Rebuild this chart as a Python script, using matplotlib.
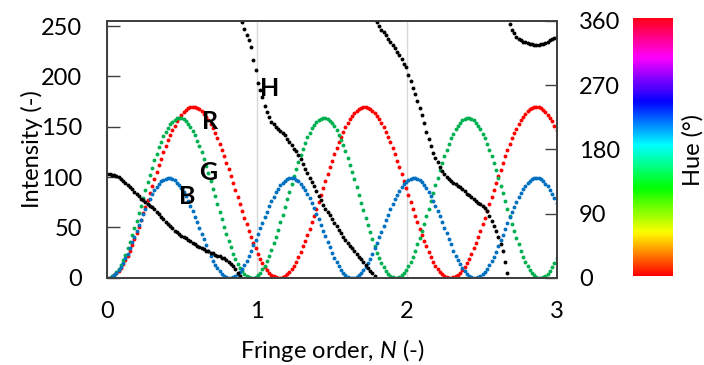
import numpy as np
import matplotlib
matplotlib.use('Agg')
import matplotlib.pyplot as plt
from matplotlib.cm import ScalarMappable
from matplotlib.colors import Normalize

plt.rcParams['font.family'] = ['Lato', 'DejaVu Sans']
plt.rcParams['mathtext.fontset'] = 'custom'
plt.rcParams['mathtext.rm'] = 'Lato'
plt.rcParams['mathtext.it'] = 'Lato:italic'

# fringe order grid (step 0.015)
N = np.round(np.arange(201) * 0.015, 3)

# channel intensities
R = [0, 0, 1, 3, 5, 7, 10, 14, 18, 22,
     27, 32, 38, 44, 50, 57, 64, 70, 77, 84,
     91, 98, 105, 112, 118, 125, 131, 137, 142, 147,
     151, 156, 159, 162, 165, 167, 169, 170, 170, 170,
     169, 168, 166, 163, 160, 157, 153, 149, 144, 139,
     133, 127, 121, 114, 108, 101, 94, 87, 80, 73,
     66, 59, 53, 46, 40, 34, 29, 24, 19, 15,
     11, 8, 5, 3, 2, 1, 0, 0, 1, 2,
     4, 6, 9, 12, 16, 21, 26, 31, 36, 42,
     48, 55, 61, 68, 75, 82, 89, 96, 103, 110,
     116, 123, 129, 135, 140, 145, 150, 154, 158, 161,
     164, 166, 168, 169, 170, 170, 169, 168, 166, 164,
     161, 158, 154, 150, 145, 140, 135, 129, 123, 116,
     110, 103, 96, 89, 82, 75, 68, 61, 55, 48,
     42, 36, 31, 26, 21, 16, 12, 9, 6, 4,
     2, 1, 0, 0, 1, 2, 3, 5, 8, 11,
     15, 19, 24, 29, 34, 40, 46, 53, 59, 66,
     73, 80, 87, 94, 101, 107, 114, 121, 127, 133,
     139, 144, 148, 153, 157, 160, 163, 166, 168, 169,
     170, 170, 170, 169, 167, 165, 162, 159, 156, 151,
     147]

G = [0, 0, 2, 3, 6, 9, 13, 18, 23, 29,
     35, 42, 49, 56, 64, 71, 79, 87, 95, 102,
     109, 117, 123, 130, 135, 141, 145, 149, 153, 155,
     157, 159, 159, 159, 158, 156, 153, 150, 146, 142,
     136, 131, 125, 118, 111, 104, 96, 88, 81, 73,
     65, 58, 50, 43, 36, 30, 24, 19, 14, 10,
     7, 4, 2, 1, 0, 0, 1, 3, 5, 9,
     12, 17, 22, 28, 34, 40, 47, 55, 62, 70,
     78, 85, 93, 101, 108, 115, 122, 128, 134, 140,
     144, 149, 152, 155, 157, 158, 159, 159, 158, 156,
     154, 151, 147, 142, 137, 132, 126, 119, 112, 105,
     98, 90, 82, 74, 67, 59, 52, 45, 38, 31,
     25, 20, 15, 11, 7, 4, 2, 1, 0, 0,
     1, 3, 5, 8, 12, 16, 21, 27, 33, 39,
     46, 53, 61, 68, 76, 84, 92, 99, 107, 114,
     121, 127, 133, 139, 143, 148, 151, 154, 157, 158,
     159, 159, 158, 157, 154, 151, 148, 143, 139, 133,
     127, 121, 114, 107, 99, 91, 84, 76, 68, 61,
     53, 46, 39, 33, 27, 21, 16, 12, 8, 5,
     3, 1, 0, 0, 1, 2, 4, 7, 11, 15,
     20]

B = [0, 0, 1, 3, 5, 8, 11, 15, 20, 24,
     29, 35, 40, 46, 52, 57, 63, 68, 73, 78,
     83, 87, 90, 93, 96, 97, 98, 99, 99, 98,
     97, 94, 92, 89, 85, 81, 76, 71, 66, 60,
     55, 49, 43, 38, 32, 27, 22, 17, 13, 10,
     7, 4, 2, 1, 0, 0, 1, 2, 4, 6,
     9, 13, 17, 22, 27, 32, 37, 43, 49, 54,
     60, 65, 71, 76, 80, 85, 88, 92, 94, 96,
     98, 99, 99, 99, 97, 96, 93, 90, 87, 83,
     79, 74, 69, 63, 58, 52, 46, 41, 35, 30,
     25, 20, 16, 12, 8, 5, 3, 1, 0, 0,
     0, 1, 3, 5, 8, 11, 15, 19, 24, 29,
     34, 40, 45, 51, 57, 62, 68, 73, 78, 82,
     86, 90, 93, 95, 97, 98, 99, 99, 98, 97,
     95, 92, 89, 85, 81, 76, 71, 66, 61, 55,
     49, 44, 38, 33, 27, 22, 18, 14, 10, 7,
     4, 2, 1, 0, 0, 1, 2, 4, 6, 9,
     13, 17, 21, 26, 31, 37, 42, 48, 54, 60,
     65, 70, 75, 80, 84, 88, 91, 94, 96, 98,
     99, 99, 99, 98, 96, 93, 91, 87, 83, 79,
     74]

# hue in degrees (right axis)
H = [145, 145, 144, 144, 142, 141, 139, 136, 133, 130,
     127, 124, 120, 117, 114, 111, 109, 106, 104, 101,
     99, 96, 92, 89, 85, 82, 78, 75, 72, 69,
     66, 64, 61, 59, 57, 55, 53, 51, 49, 47,
     45, 43, 42, 40, 38, 37, 35, 34, 32, 31,
     30, 28, 27, 25, 22, 19, 16, 12, 7, 2,
     359, 349, 341, 333, 323, 305, 291, 273, 263, 253,
     241, 232, 225, 219, 216, 212, 209, 206, 203, 200,
     195, 190, 186, 181, 177, 172, 166, 159, 153, 147,
     140, 134, 128, 121, 115, 109, 102, 96, 92, 88,
     82, 77, 72, 67, 62, 57, 53, 49, 45, 41,
     37, 33, 29, 26, 22, 18, 14, 10, 6, 2,
     358, 353, 348, 344, 340, 335, 331, 327, 322, 317,
     312, 306, 300, 295, 284, 276, 266, 257, 248, 238,
     228, 217, 205, 194, 184, 175, 168, 162, 155, 150,
     145, 141, 138, 135, 133, 131, 129, 127, 124, 121,
     118, 116, 113, 111, 108, 105, 103, 100, 98, 93,
     86, 79, 73, 66, 57, 47, 37, 22, 6,
     356, 348, 343, 338, 335, 333, 331, 330, 329, 328,
     328, 327, 327, 327, 328, 328, 329, 331, 333, 335,
     336, 338]

for name, s in (('R', R), ('G', G), ('B', B), ('H', H)):
    if len(s) != len(N):
        raise ValueError(f'{name} has {len(s)} points')

fig = plt.figure(figsize=(7.04, 3.65), dpi=100)
ax = fig.add_axes([0.1524, 0.2392, 0.6384, 0.7033])
ax2 = ax.twinx()

ms = 2.8
ax.plot(N, R, 'o', ms=ms, mew=0, color='#FF0000')
ax.plot(N, G, 'o', ms=ms, mew=0, color='#00B050')
ax.plot(N, B, 'o', ms=ms, mew=0, color='#0070C0')
ax2.plot(N, H, 'o', ms=ms, mew=0, color='black')

ax.set_xlim(0, 3)
ax.set_ylim(0, 255)
ax2.set_ylim(0, 360)
ax.set_xticks([0, 1, 2, 3])
ax.set_yticks(range(0, 251, 50))
ax2.set_yticks(range(0, 361, 90))

ax.grid(axis='x', color='#d9d9d9', lw=1)
ax.set_axisbelow(True)

fs = 17
spine_c = '#404040'
for a in (ax, ax2):
    for sp in a.spines.values():
        sp.set_color(spine_c)
        sp.set_linewidth(1.3)
ax.tick_params(axis='y', direction='in', length=9, width=1, color=spine_c, pad=18, labelsize=fs)
ax2.tick_params(axis='y', direction='in', length=9, width=1, color=spine_c, pad=16, labelsize=fs)
ax.tick_params(axis='x', length=0, pad=17, labelsize=fs)

# series labels
lab = dict(fontsize=18, fontweight='bold', ha='center', va='center')
ax.text(1.086, 188, 'H', **lab)
ax.text(0.687, 155, 'R', **lab)
ax.text(0.672, 104, 'G', **lab)
ax.text(0.532, 81, 'B', **lab)

fig.text(32 / 704, 1 - 149 / 365, 'Intensity (-)', rotation=90, ha='center', va='center', fontsize=fs)
fig.text(332 / 704, 1 - 350 / 365, 'Fringe order, $N$ (-)', ha='center', va='center', fontsize=fs)

# hue colour bar
cax = fig.add_axes([0.8987, 0.2438, 0.0577, 0.707])
cb = fig.colorbar(ScalarMappable(norm=Normalize(0, 360), cmap='hsv'), cax=cax)
cb.set_ticks([])
cb.outline.set_visible(False)
fig.text(0.984, 1 - 150 / 365, 'Hue (°)', rotation=90, ha='center', va='center', fontsize=fs)

fig.savefig('out.png', dpi=100)
